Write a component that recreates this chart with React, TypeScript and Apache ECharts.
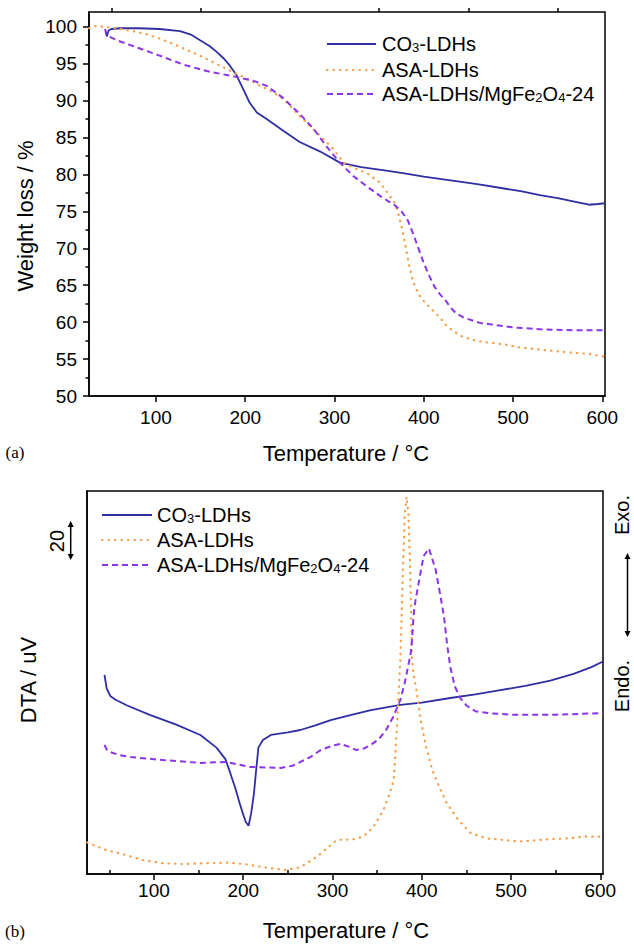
import React, { useEffect, useRef } from 'react';
import * as echarts from 'echarts';

const FONT = "'Liberation Sans', Arial, sans-serif";
const SERIF = "'Liberation Serif', 'Times New Roman', serif";

const C_CO3 = '#2f2fa3';
const C_ASA = '#f5a04c';
const C_MGFE = '#8b35e6';

const NAME_CO3 = 'CO3-LDHs';
const NAME_ASA = 'ASA-LDHs';
const NAME_MGFE = 'ASA-LDHs/MgFe2O4-24';

// axis ticks
const xMajorTicks = [100, 200, 300, 400, 500, 600];
const xMinorTicks = [50, 150, 250, 350, 450, 550];
const yMajorTicks = [50, 55, 60, 65, 70, 75, 80, 85, 90, 95, 100];
const yMinorTicks = [52.5, 57.5, 62.5, 67.5, 72.5, 77.5, 82.5, 87.5, 92.5, 97.5];

// (a) TGA – CO3-LDHs
const tgaT_CO3 = [44, 45, 47, 50, 60, 80, 104, 127, 140, 149, 160, 168, 176, 183, 190, 198, 205, 213, 224, 243, 261, 284, 306, 330, 360, 380, 400, 430, 460, 490, 510, 530, 550, 570, 585, 595, 603];
const tgaW_CO3 = [99.3, 98.7, 99.5, 99.7, 99.8, 99.8, 99.7, 99.4, 98.9, 98.2, 97.4, 96.6, 95.7, 94.7, 93.5, 91.5, 89.7, 88.4, 87.5, 85.9, 84.4, 83.1, 81.6, 81.0, 80.5, 80.1, 79.7, 79.2, 78.7, 78.1, 77.7, 77.2, 76.8, 76.3, 75.9, 76.0, 76.1];

// (a) TGA – ASA-LDHs
const tgaT_ASA = [25, 33, 50, 71, 89, 104, 119, 134, 149, 164, 179, 198, 217, 230, 243, 262, 280, 299, 310, 323, 336, 351, 362, 368, 372, 376, 380, 384, 388, 394, 401, 410, 418, 425, 433, 442, 455, 467, 490, 506, 530, 553, 585, 603];
const tgaW_ASA = [99.8, 100.1, 99.9, 99.5, 99.0, 98.4, 97.7, 96.9, 96.1, 95.2, 94.3, 93.2, 92.0, 91.2, 90.2, 87.8, 85.7, 83.4, 81.6, 80.8, 80.2, 78.9, 77.1, 76.0, 74.5, 72.5, 70.0, 67.5, 65.5, 63.8, 62.7, 61.6, 60.6, 59.6, 58.8, 58.1, 57.6, 57.3, 57.0, 56.6, 56.3, 56.0, 55.7, 55.3];

// (a) TGA – ASA-LDHs/MgFe2O4-24
const tgaT_MGFE = [43, 44, 45, 60, 74, 90, 104, 130, 157, 186, 209, 224, 242, 261, 277, 291, 306, 321, 336, 351, 360, 368, 375, 382, 388, 394, 400, 406, 412, 418, 424, 430, 436, 445, 463, 481, 499, 535, 570, 603];
const tgaW_MGFE = [99.7, 99.2, 98.8, 98.0, 97.4, 96.7, 96.1, 94.9, 94.0, 93.3, 92.7, 92.0, 90.4, 88.2, 86.1, 83.8, 81.6, 79.8, 78.4, 77.1, 76.4, 75.8, 75.0, 73.8, 72.0, 70.0, 68.0, 66.3, 64.8, 63.8, 63.0, 62.0, 61.2, 60.6, 59.9, 59.6, 59.3, 59.0, 58.9, 58.9];

// (b) DTA – CO3-LDHs (arbitrary uV units, scale bar = 20)
const dtaT_CO3 = [44.6, 47, 51, 57, 70, 96, 125, 152, 170, 180, 186, 191, 196, 200, 203, 206, 209, 212, 214, 217, 222, 231, 250, 264, 280, 298, 320, 343, 376, 400, 432, 460, 488, 516, 544, 570, 590, 603];
const dtaV_CO3 = [104, 97, 93, 91, 88, 83, 78, 72.6, 66, 60, 52, 45, 37, 31, 27, 25.2, 32, 42, 52, 66, 70, 72.6, 74, 75.2, 77.5, 80.4, 83, 85.6, 88.3, 89.5, 91.9, 93.8, 96, 98.2, 101, 104.5, 108, 111];

// (b) DTA – ASA-LDHs
const dtaT_ASA = [25, 46.5, 64.6, 87.3, 110, 132.7, 155, 182.6, 200.7, 223.4, 246, 264, 282.4, 305, 323, 334.6, 346, 357, 364, 368.6, 372, 376, 379, 381, 383, 385, 387, 389, 391, 394, 399, 404.5, 412, 421, 428, 441, 455, 473, 491, 509, 523, 541, 564, 582, 603];
const dtaV_ASA = [16.5, 12.5, 10.4, 7.3, 5.6, 5.2, 5.6, 5.9, 5.2, 3.5, 2.1, 3.5, 9.0, 17.8, 18.1, 19.5, 24.7, 33.4, 42, 49, 75, 112, 160, 188, 197, 188, 160, 112, 104, 96, 80, 67, 54, 44, 37, 28.2, 21.3, 18.6, 17.8, 16.9, 17.4, 18.1, 18.6, 19.5, 19.5];

// (b) DTA – ASA-LDHs/MgFe2O4-24
const dtaT_MGFE = [44.6, 47, 51, 62, 73.6, 110, 152, 180, 208, 242, 255, 264, 275, 287, 300, 309, 318, 326, 335, 343, 352, 360, 368, 376, 381, 384.5, 387.5, 389, 391, 393, 396.5, 402, 408, 415.5, 421, 425, 428.6, 432, 437, 443, 450, 460, 475, 500, 550, 603];
const dtaV_MGFE = [67.4, 65, 63.7, 62, 61.1, 59.5, 58, 58.5, 55.9, 55.4, 56.5, 58.5, 61, 64.8, 67, 68, 66.5, 64.8, 65.5, 67.4, 70.5, 75.2, 82, 90.9, 100, 108, 115, 122, 136, 143, 152, 166, 170, 159, 145, 134, 119, 108, 98, 92, 88, 85, 84, 83.2, 83.2, 84];

const legendNames = [NAME_CO3, NAME_ASA, NAME_MGFE];
const legendRich: Record<string, string> = {
  [NAME_CO3]: '{n|CO}{s|3}{n|-LDHs}',
  [NAME_ASA]: '{n|ASA-LDHs}',
  [NAME_MGFE]: '{n|ASA-LDHs/MgFe}{s|2}{n|O}{s|4}{n|-24}',
};

const zip = (xs: number[], ys: number[]) => xs.map((x, i) => [x, ys[i]]);

const lineStyles: Record<string, any> = {
  [NAME_CO3]: { color: C_CO3, width: 1.8, type: 'solid', dash: null },
  [NAME_ASA]: { color: C_ASA, width: 2.2, type: [0.5, 6], cap: 'round', dash: [0.5, 6] },
  [NAME_MGFE]: { color: C_MGFE, width: 2, type: [6, 4], dash: [6, 4] },
};

const axisLineStyle = { color: '#000', width: 1.5 };

function makeXAxes(gridIndex: number, labelMargin: number) {
  return [
    {
      gridIndex, type: 'value', min: 25, max: 603,
      axisLine: { show: true, onZero: false, lineStyle: axisLineStyle },
      axisTick: { show: true, length: 6, customValues: xMajorTicks, lineStyle: axisLineStyle },
      axisLabel: { show: true, customValues: xMajorTicks, margin: labelMargin, fontSize: 19, fontFamily: FONT, color: '#000' },
      splitLine: { show: false },
    },
    {
      gridIndex, type: 'value', min: 25, max: 603,
      axisLine: { show: false },
      axisTick: { show: true, length: 4, customValues: xMinorTicks, lineStyle: axisLineStyle },
      axisLabel: { show: false },
      splitLine: { show: false },
    },
  ];
}

const richStyles = {
  n: { fontSize: 20, fontFamily: FONT, fill: '#000', color: '#000', lineHeight: 20 },
  s: { fontSize: 13, fontFamily: FONT, fill: '#000', color: '#000', lineHeight: 2, verticalAlign: 'bottom' },
};

function legendGraphic(x1: number, x2: number, textX: number, rows: number[]) {
  const els: any[] = [];
  legendNames.forEach((name, i) => {
    const st = lineStyles[name];
    const y = rows[i];
    els.push({
      type: 'line', silent: true,
      shape: { x1, y1: y, x2, y2: y },
      style: { stroke: st.color, lineWidth: st.width, lineDash: st.dash || undefined, lineCap: st.cap || 'butt' },
    });
    els.push({
      type: 'text', silent: true, x: textX, y,
      style: {
        text: legendRich[name], rich: richStyles, fill: '#000', font: `20px ${FONT}`,
        align: 'left', verticalAlign: 'middle', textAlign: 'left', textVerticalAlign: 'middle',
      },
    });
  });
  return els;
}

function txt(text: string, x: number, y: number, size: number, rot = 0, family = FONT) {
  return {
    type: 'text', x, y, rotation: rot, silent: true,
    style: {
      text, fill: '#000', font: `${size}px ${family}`,
      align: 'center', verticalAlign: 'middle', textAlign: 'center', textVerticalAlign: 'middle',
    },
  };
}

function doubleArrow(x: number, y1: number, y2: number) {
  const h = 6, w = 3;
  return [
    { type: 'line', silent: true, shape: { x1: x, y1: y1 + 3, x2: x, y2: y2 - 3 }, style: { stroke: '#000', lineWidth: 1.5 } },
    { type: 'polygon', silent: true, shape: { points: [[x, y1], [x - w, y1 + h], [x + w, y1 + h]] }, style: { fill: '#000' } },
    { type: 'polygon', silent: true, shape: { points: [[x, y2], [x - w, y2 - h], [x + w, y2 - h]] }, style: { fill: '#000' } },
  ];
}

export default function App() {
  const ref = useRef<HTMLDivElement>(null);
  useEffect(() => {
    if (!ref.current) return;
    const chart = echarts.init(ref.current, undefined, { renderer: 'svg' });
    const mk = (name: string, xs: number[], ys: number[], xi: number, yi: number) => {
      const st = lineStyles[name];
      return {
        name, type: 'line', xAxisIndex: xi, yAxisIndex: yi,
        data: zip(xs, ys), showSymbol: false, symbol: 'none', smooth: false,
        lineStyle: { color: st.color, width: st.width, type: st.type, cap: st.cap || 'butt' },
        itemStyle: { color: st.color },
        emphasis: { disabled: true }, silent: true, z: 3,
      };
    };
    const option: any = {
      animation: false,
      backgroundColor: '#ffffff',
      textStyle: { fontFamily: FONT },
      grid: [
        { left: 89, top: 12, width: 516, height: 384, show: true, borderColor: '#000', borderWidth: 1.5, containLabel: false },
        { left: 87, top: 491, width: 516, height: 383, show: true, borderColor: '#000', borderWidth: 1.5, containLabel: false },
      ],
      xAxis: [...makeXAxes(0, 12), ...makeXAxes(1, 7)],
      yAxis: [
        {
          gridIndex: 0, type: 'value', min: 50, max: 102, position: 'left',
          axisLine: { show: true, onZero: false, lineStyle: axisLineStyle },
          axisTick: { show: true, length: 6, customValues: yMajorTicks, lineStyle: axisLineStyle },
          axisLabel: { show: true, customValues: yMajorTicks, margin: 12, fontSize: 19, fontFamily: FONT, color: '#000' },
          splitLine: { show: false },
        },
        {
          gridIndex: 0, type: 'value', min: 50, max: 102, position: 'left',
          axisLine: { show: false },
          axisTick: { show: true, length: 3.5, customValues: yMinorTicks, lineStyle: axisLineStyle },
          axisLabel: { show: false },
          splitLine: { show: false },
        },
        {
          gridIndex: 1, type: 'value', min: 0, max: 200, position: 'left',
          axisLine: { show: true, onZero: false, lineStyle: axisLineStyle },
          axisTick: { show: false }, axisLabel: { show: false }, splitLine: { show: false },
        },
      ],
      series: [
        mk(NAME_CO3, tgaT_CO3, tgaW_CO3, 0, 0),
        mk(NAME_ASA, tgaT_ASA, tgaW_ASA, 0, 0),
        mk(NAME_MGFE, tgaT_MGFE, tgaW_MGFE, 0, 0),
        mk(NAME_CO3, dtaT_CO3, dtaV_CO3, 2, 2),
        mk(NAME_ASA, dtaT_ASA, dtaV_ASA, 2, 2),
        mk(NAME_MGFE, dtaT_MGFE, dtaV_MGFE, 2, 2),
      ],
      graphic: [
        ...legendGraphic(327, 376, 382, [44, 70, 94]),
        ...legendGraphic(102, 152, 157, [515, 540, 565]),
        txt('Weight loss / %', 25, 216, 22, Math.PI / 2),
        txt('Temperature / °C', 346, 453, 22),
        txt('(a)', 15, 452, 17, 0, SERIF),
        txt('DTA / uV', 28, 680, 22, Math.PI / 2),
        txt('20', 57, 541, 20, Math.PI / 2),
        ...doubleArrow(70.7, 521, 560),
        txt('Exo.', 622, 515, 20, Math.PI / 2),
        ...doubleArrow(627.5, 553, 637),
        txt('Endo.', 622, 686, 20, Math.PI / 2),
        txt('Temperature / °C', 346, 930, 22),
        txt('(b)', 15, 931, 17, 0, SERIF),
      ],
    };
    chart.setOption(option);
    return () => chart.dispose();
  }, []);
  return <div ref={ref} style={{ position: 'fixed', left: 0, top: 0, width: 634, height: 945, background: '#fff' }} />;
}
